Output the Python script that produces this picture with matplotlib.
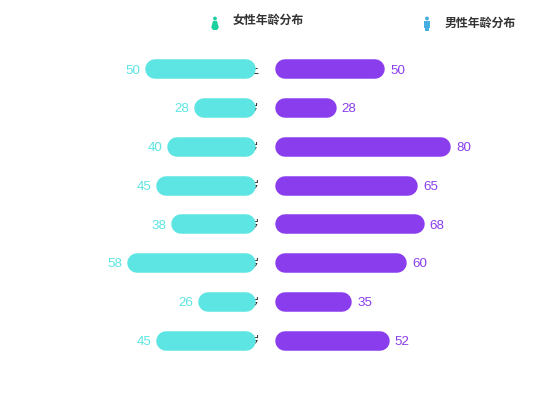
import matplotlib
matplotlib.use('Agg')
import matplotlib.pyplot as plt
from matplotlib.patches import Circle, Polygon, Rectangle

plt.rcParams['font.family'] = ['Noto Sans CJK SC', 'DejaVu Sans']

W, H = 550, 420

# categories are mostly hidden behind the bars in the original, only the last glyph peeks out
categories = ['60岁以上', '55-59岁', '50-54岁', '45-49岁', '40-44岁', '35-39岁', '30-34岁', '25-29岁']
female = [50, 28, 40, 45, 38, 58, 26, 45]
male = [50, 28, 80, 65, 68, 60, 35, 52]
female_name = '女性年龄分布'
male_name = '男性年龄分布'

female_colour = '#5ce5e3'
male_colour = '#8a3ded'
text_colour = '#333333'
BAR_PX = 19.5
ROW_PX = 38.75
TOP_PX = 69.5
PX_PER_UNIT_L = 2.22
PX_PER_UNIT_R = 2.2


def make_axes(fig, x0_px, width_px, xlim):
    # y runs in rows, row 0 is the top bar
    n = len(categories)
    top = TOP_PX - ROW_PX / 2
    ax = fig.add_axes([x0_px / W, 1 - (top + n * ROW_PX) / H, width_px / W, n * ROW_PX / H])
    ax.set_xlim(*xlim)
    ax.set_ylim(n - 0.5, -0.5)
    ax.set_axis_off()
    return ax


def draw_bars(ax, values, colour, px_per_unit, side):
    r = BAR_PX / 2 / px_per_unit
    lw = BAR_PX * 72 / fig.dpi
    for i, v in enumerate(values):
        ax.plot([r, v - r], [i, i], color=colour, lw=lw, solid_capstyle='round', zorder=3)
        ax.annotate(str(v), (v, i), xytext=(side * 3.6, -0.8), textcoords='offset points',
                    ha='left' if side > 0 else 'right', va='center', color=colour, fontsize=9.6,
                    family='Liberation Sans', zorder=4)


fig = plt.figure(figsize=(W / 100, H / 100), dpi=100)

ax_l = make_axes(fig, 56, 200, (200 / PX_PER_UNIT_L, 0))
ax_r = make_axes(fig, 275, 220, (0, 220 / PX_PER_UNIT_R))
draw_bars(ax_l, female, female_colour, PX_PER_UNIT_L, -1)
draw_bars(ax_r, male, male_colour, PX_PER_UNIT_R, 1)

# category labels sit under the left bars
for i, c in enumerate(categories):
    ax_l.annotate(c, (0, i), xytext=(2.6, -0.5), textcoords='offset points', ha='right', va='center',
                  fontsize=8.6, color='#222222', zorder=1)

# legend icons, overlay in pixel coordinates
ov = fig.add_axes([0, 0, 1, 1])
ov.set_xlim(0, W)
ov.set_ylim(H, 0)
ov.set_axis_off()
ov.patch.set_alpha(0)


def person(cx, cy, colour, skirt):
    ov.add_patch(Circle((cx, cy - 5), 1.9, color=colour, lw=0))
    if skirt:
        ov.add_patch(Polygon([(cx - 2, cy - 2.5), (cx + 2, cy - 2.5), (cx + 3.8, cy + 4), (cx + 2, cy + 6.5),
                              (cx - 2, cy + 6.5), (cx - 3.8, cy + 4)], color=colour, lw=0))
    else:
        ov.add_patch(Rectangle((cx - 3.2, cy - 2.5), 6.4, 7, color=colour, lw=0))
        ov.add_patch(Rectangle((cx - 2, cy + 4), 4, 3, color=colour, lw=0))


person(215, 23.5, '#1ccf9e', True)
person(427, 23.5, '#46aee0', False)
ov.text(233, 20.5, female_name, fontsize=8.6, fontweight='bold', color=text_colour, va='center', ha='left')
ov.text(445, 23.5, male_name, fontsize=8.6, fontweight='bold', color=text_colour, va='center', ha='left')

fig.savefig('out.png', dpi=100)
